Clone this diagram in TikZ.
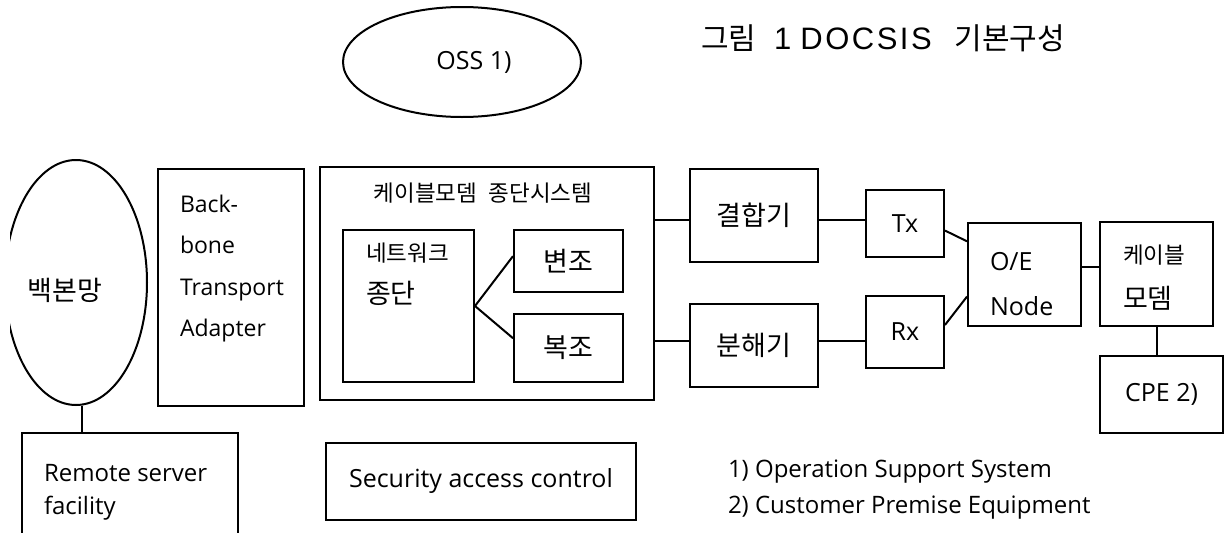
\documentclass[tikz,border=0pt]{standalone}
\usepackage{fontspec}
\setmainfont{Open Sans}
\newfontfamily\kr{Noto Sans CJK KR}
\newfontfamily\ttlfont[LetterSpace=8]{Liberation Sans}
\usetikzlibrary{shapes.geometric}

\begin{document}
\begin{tikzpicture}[x=1pt, y=-1pt, line width=2pt,
    every node/.style={inner sep=0pt},
    font=\fontsize{25}{30}\selectfont,
    box/.style={draw, rectangle},
    oval/.style={draw, ellipse},
    ko/.style={font=\kr\fontsize{27}{30}\selectfont},
    kosmall/.style={font=\kr\fontsize{22.5}{26}\selectfont}]
  \useasboundingbox (0,0) rectangle (1227,533);

  % OSS and caption
  \node[oval, minimum width=238pt, minimum height=110pt] (oss) at (462,62) {};
  \node (osslbl) at (474,62) {OSS 1)};
  \node[anchor=west] (caption) at (700,38) {{\kr\fontsize{30}{32}\selectfont 그림}\hspace{18pt}{\ttlfont\fontsize{31}{32}\selectfont 1\hspace{9pt}DOCSIS}\hspace{23pt}{\kr\fontsize{30}{32}\selectfont 기본구성}};

  % backbone side
  \begin{scope}
    \clip (10,140) rectangle (170,420);
    \node[oval, minimum width=142pt, minimum height=245pt] (bbnet) at (76,282.5) {};
  \end{scope}
  \node[ko] (bbnetlbl) at (65,290) {백본망};

  \node[box, minimum width=216pt, minimum height=170pt, anchor=north] (remote) at (130,432) {};
  \node[anchor=north west, align=left, font=\fontsize{24}{33}\selectfont] (remotelbl) at (43,463) {Remote server\\facility};

  \node[box, minimum width=146pt, minimum height=237pt] (bbta) at (231,287.5) {};
  \node[anchor=north west, align=left, font=\fontsize{23}{41.5}\selectfont] (bbtalbl) at (179,194) {Back-\\bone\\Transport\\Adapter};

  % CMTS
  \node[box, minimum width=334pt, minimum height=233pt] (cmts) at (487,283.5) {};
  \node[kosmall] (cmtslbl) at (483,193) {케이블모뎀\hspace{0.5em}종단시스템};
  \node[box, minimum width=131pt, minimum height=152pt] (netterm) at (408.5,306) {};
  \node[anchor=west, kosmall] (nettermtop) at (365,253) {네트워크};
  \node[anchor=west, ko] (nettermbot) at (365,293) {종단};
  \node[box, ko, minimum width=109pt, minimum height=62pt] (mod) at (568.5,261) {변조};
  \node[box, ko, minimum width=109pt, minimum height=68pt] (demod) at (568.5,348) {복조};

  % HFC side
  \node[box, ko, minimum width=128pt, minimum height=93pt] (comb) at (754,215.5) {결합기};
  \node[box, ko, minimum width=128pt, minimum height=83pt] (split) at (754,345.5) {분해기};
  \node[box, minimum width=78pt, minimum height=67pt] (tx) at (905,223.5) {Tx};
  \node[box, minimum width=78pt, minimum height=72pt] (rx) at (905,332) {Rx};
  \node[box, minimum width=113pt, minimum height=103pt] (oe) at (1024.5,274.5) {};
  \node[anchor=west, align=left, font=\fontsize{25}{45}\selectfont] (oelbl) at (989,284.5) {O/E\\Node};
  \node[box, minimum width=113pt, minimum height=104pt] (modem) at (1156.5,274) {};
  \node[anchor=west, kosmall] (modemtop) at (1122,255) {케이블};
  \node[anchor=west, ko] (modembot) at (1122,298) {모뎀};
  \node[box, minimum width=123pt, minimum height=77pt] (cpe) at (1161.5,394.5) {CPE 2)};

  \node[box, minimum width=310pt, minimum height=77pt] (sac) at (481,481.5) {Security access control};

  % notes
  \node[anchor=west, font=\fontsize{24}{30}\selectfont] (note1) at (727,472) {1) Operation Support System};
  \node[anchor=west, font=\fontsize{24}{30}\selectfont] (note2) at (727,508) {2) Customer Premise Equipment};

  % links
  \draw (bbnet.-87) -- (bbnet.-87 |- remote.north);
  \draw (netterm.east) -- (mod.175);
  \draw (netterm.east) -- (demod.170);
  \draw (comb.184 -| cmts.east) -- (comb.184);
  \draw (comb.-4) -- (comb.-4 -| tx.west);
  \draw (split.176 -| cmts.east) -- (split.176);
  \draw (split.4) -- (split.4 -| rx.west);
  \draw (tx.-10) -- (oe.150);
  \draw (rx.10) -- (oe.-159);
  \draw (oe.7) -- (oe.7 -| modem.west);
  \draw (modem.south) -- (modem.south |- cpe.north);
\end{tikzpicture}
\end{document}
